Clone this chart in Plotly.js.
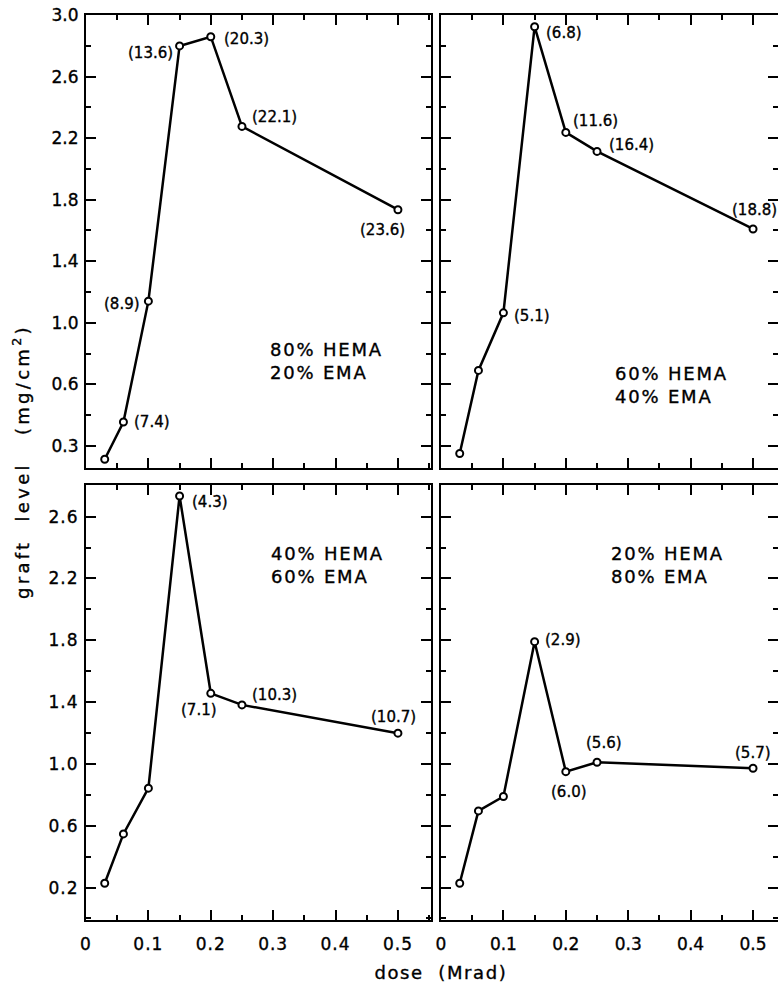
<!DOCTYPE html>
<html>
<head>
<meta charset="utf-8">
<script src="https://cdn.plot.ly/plotly-3.0.1.min.js"></script>
<style>
  html, body { margin: 0; padding: 0; background: #fff; overflow: hidden; }
  #chart { width: 778px; height: 982px; }
  #chart svg text { stroke: #000; stroke-width: 0.35px; }
  .xtick text, .ytick text { letter-spacing: 1px; }
  g.annotation[data-index="0"] text { letter-spacing: 1.6px; }
  g.annotation[data-index="1"] text { letter-spacing: 3.3px; }
  g.annotation[data-index="2"] text,
  g.annotation[data-index="3"] text,
  g.annotation[data-index="4"] text,
  g.annotation[data-index="5"] text { letter-spacing: 1.8px; }
</style>
</head>
<body>
<div id="chart"></div>
<script>
// ---------------- data ----------------
const dose = [0.03, 0.06, 0.10, 0.15, 0.20, 0.25, 0.50];

const graft80 = [0.114, 0.356, 1.141, 2.799, 2.859, 2.276, 1.735];
const graft60 = [0.151, 0.691, 1.065, 2.924, 2.237, 2.114, 1.610];
const graft40 = [0.228, 0.547, 0.843, 2.734, 1.457, 1.382, 1.199];
const graft20 = [0.228, 0.696, 0.789, 1.791, 0.950, 1.011, 0.972];

const labels80 = ["", "(7.4)", "(8.9)", "(13.6)", "(20.3)", "(22.1)", "(23.6)"];
const labels60 = ["", "", "(5.1)", "(6.8)", "(11.6)", "(16.4)", "(18.8)"];
const labels40 = ["", "", "", "(4.3)", "(7.1)", "(10.3)", "(10.7)"];
const labels20 = ["", "", "", "(2.9)", "(6.0)", "(5.6)", "(5.7)"];

const compositions = ["80% HEMA<br>20% EMA", "60% HEMA<br>40% EMA",
                      "40% HEMA<br>60% EMA", "20% HEMA<br>80% EMA"];

const xTickVals = [0, 0.1, 0.2, 0.3, 0.4, 0.5];
const xTickText = ["0", "0.1", "0.2", "0.3", "0.4", "0.5"];
const yTopTickVals = [3.0, 2.6, 2.2, 1.8, 1.4, 1.0, 0.6, 0.2];
const yTopTickText = ["3.0", "2.6", "2.2", "1.8", "1.4", "1.0", "0.6", "0.3"];
const yBotTickVals = [2.6, 2.2, 1.8, 1.4, 1.0, 0.6, 0.2];
const yBotTickText = ["2.6", "2.2", "1.8", "1.4", "1.0", "0.6", "0.2"];

const xTitle = "dose  (Mrad)";
const yTitle = "graft  level   (mg/cm<sup>2</sup>)";

// ---------------- style / layout ----------------
const FONT = "DejaVu Sans, sans-serif";
const W = 778, H = 982;

const panels = [
  {y: graft80, lab: labels80, comp: compositions[0], xa: "x3", ya: "y3"},
  {y: graft60, lab: labels60, comp: compositions[1], xa: "x4", ya: "y4"},
  {y: graft40, lab: labels40, comp: compositions[2], xa: "x",  ya: "y"},
  {y: graft20, lab: labels20, comp: compositions[3], xa: "x2", ya: "y2"}
];

// label placement per panel: [xanchor, xshift, yshift]
const labelPlace = [
  [null, ["left", 9, 0], ["right", -6, -3], ["right", -5, -7], ["left", 11, -2], ["left", 8, 9], ["center", -15, -20]],
  [null, null, ["left", 9, -3], ["left", 9, -6], ["left", 5, 11], ["left", 10, 6], ["center", 1, 19]],
  [null, null, null, ["left", 10, -6], ["center", -12, -17], ["left", 8, 10], ["center", -4, 16]],
  [null, null, null, ["left", 8, 2], ["center", 3, -20], ["center", 7, 19], ["center", 0, 15]]
];
const compPos = [[0.2917, 0.753], [0.276, 0.594], [0.293, 2.287], [0.2695, 2.287]];

const traces = panels.map(p => ({
  x: dose, y: p.y, xaxis: p.xa, yaxis: p.ya,
  type: "scatter", mode: "lines+markers",
  line: {color: "#000", width: 2.5},
  marker: {symbol: "circle", size: 7, color: "#fff", line: {color: "#000", width: 2}},
  showlegend: false, hoverinfo: "skip"
}));

function axisBase() {
  return {
    showline: true, linecolor: "#000", linewidth: 2, mirror: "allticks",
    ticks: "inside", ticklen: 10, tickwidth: 2, tickcolor: "#000",
    showgrid: false, zeroline: false,
    tickfont: {family: FONT, size: 17, color: "#000"},
    fixedrange: true
  };
}

const lx0 = 86 / W, lx1 = 431 / W, rx0 = 441 / W, rx1 = 1;
const ty0 = 1 - 468 / H, ty1 = 1 - 15 / H, by0 = 1 - 920 / H, by1 = 1 - 485 / H;

function xAxis(domain, range, labels, anchor) {
  return Object.assign(axisBase(), {
    domain: domain, range: range, anchor: anchor,
    tickmode: "array", tickvals: xTickVals, ticktext: xTickText,
    showticklabels: labels, ticklabelstandoff: 8,
    minor: {tickmode: "linear", tick0: 0, dtick: 0.05, ticks: "inside", ticklen: 5, tickwidth: 2, tickcolor: "#000"}
  });
}
function yAxis(domain, range, vals, text, labels, anchor) {
  return Object.assign(axisBase(), {
    domain: domain, range: range, anchor: anchor,
    tickmode: "array", tickvals: vals, ticktext: text,
    showticklabels: labels, ticklabelstandoff: 2,
    minor: {tickmode: "linear", tick0: 0, dtick: 0.2, ticks: "inside", ticklen: 5, tickwidth: 2, tickcolor: "#000"}
  });
}

const topRange = [0.057, 3.0];
const botRange = [-0.01, 2.805];

const layout = {
  width: W, height: H,
  margin: {l: 0, r: 0, t: 0, b: 0},
  paper_bgcolor: "#fff", plot_bgcolor: "#fff",
  font: {family: FONT, color: "#000"},
  xaxis:  xAxis([lx0, lx1], [0, 0.553], true, "y"),
  xaxis2: xAxis([rx0, rx1], [0, 0.540], true, "y2"),
  xaxis3: xAxis([lx0, lx1], [0, 0.553], false, "y3"),
  xaxis4: xAxis([rx0, rx1], [0, 0.540], false, "y4"),
  yaxis:  yAxis([by0, by1], botRange, yBotTickVals, yBotTickText, true, "x"),
  yaxis2: yAxis([by0, by1], botRange, yBotTickVals, yBotTickText, false, "x2"),
  yaxis3: yAxis([ty0, ty1], topRange, yTopTickVals, yTopTickText, true, "x3"),
  yaxis4: yAxis([ty0, ty1], topRange, yTopTickVals, yTopTickText, false, "x4"),
  annotations: []
};

layout.annotations.push({
  text: xTitle, xref: "paper", yref: "paper", x: 441 / W, y: 1 - 972 / H,
  xanchor: "center", yanchor: "middle", showarrow: false,
  font: {family: FONT, size: 18, color: "#000"}
});
layout.annotations.push({
  text: yTitle, xref: "paper", yref: "paper", x: 21 / W, y: 1 - 462 / H,
  xanchor: "center", yanchor: "middle", textangle: -90, showarrow: false,
  font: {family: FONT, size: 18, color: "#000"}
});
panels.forEach((p, i) => {
  layout.annotations.push({
    text: p.comp, xref: p.xa, yref: p.ya, x: compPos[i][0], y: compPos[i][1],
    xanchor: "left", yanchor: "middle", align: "left", showarrow: false,
    font: {family: FONT, size: 18, color: "#000"}
  });
});
panels.forEach((p, i) => {
  p.lab.forEach((t, j) => {
    if (!t) return;
    const pl = labelPlace[i][j];
    layout.annotations.push({
      text: t, xref: p.xa, yref: p.ya, x: dose[j], y: p.y[j],
      xanchor: pl[0], yanchor: "middle", xshift: pl[1], yshift: pl[2],
      showarrow: false, font: {family: FONT, size: 15, color: "#000"}
    });
  });
});

Plotly.newPlot("chart", traces, layout, {displayModeBar: false, staticPlot: true});
</script>
</body>
</html>
